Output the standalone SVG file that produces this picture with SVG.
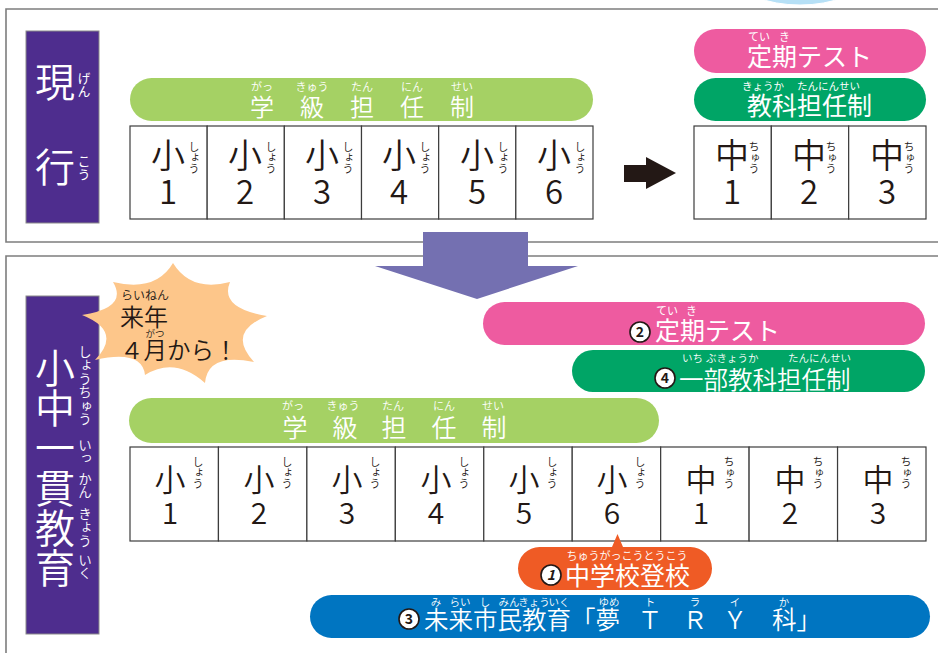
<svg xmlns="http://www.w3.org/2000/svg" width="938" height="653" viewBox="0 0 938 653">
<style>
text { font-family: "Noto Sans CJK JP", "Noto Sans", sans-serif; font-weight: 350; }
.frame { fill: none; stroke: #7d7d7d; stroke-width: 1.6; }
.cell { fill: #fff; stroke: #3c3c3c; stroke-width: 1.2; }
.lbl { fill: #4e2d8e; stroke: #8a8a8a; stroke-width: 1; }
.w { fill: #fff; }
.k { fill: #231815; }
.m { text-anchor: middle; }
.vr { writing-mode: vertical-rl; }
.r { font-size: 11px; font-weight: 400; }
.big { font-size: 40px; }
.pt { font-size: 25px; font-weight: 400; }
.ch { font-size: 34px; }
.nm { font-size: 33px; }
.ch2 { font-size: 31px; }
.nm2 { font-size: 30px; }
.circ { fill: #fff; stroke: #231815; stroke-width: 1.6; }
.cn { font-size: 14px; font-weight: bold; fill: #231815; text-anchor: middle; }
</style>

<ellipse cx="800" cy="-22" rx="62" ry="27" fill="#b6e0f6" stroke="#fff" stroke-width="1"/>

<g id="frame-current">
  <path class="frame" d="M945 9 H6 V242 H945"/>
</g>
<g id="frame-new">
  <path class="frame" d="M945 256 H6 V660"/>
</g>

<g id="label-current">
  <rect class="lbl" x="26" y="31" width="73" height="192"/>
  <text class="w m big" x="55" y="97" font-weight="400">現</text>
  <text class="w m big" x="55" y="182" font-weight="400">行</text>
  <text class="w r vr" x="84" y="72" style="font-size:13px">げん</text>
  <text class="w r vr" x="84" y="155" style="font-size:13px">こう</text>
</g>

<g id="pill-class-top">
  <rect x="130" y="78" width="463" height="43" rx="21.5" fill="#a5d164"/>
  <g class="w m" font-size="24" font-weight="400">
    <text x="262" y="116">学</text>
    <text x="312" y="116">級</text>
    <text x="362" y="116">担</text>
    <text x="412" y="116">任</text>
    <text x="462" y="116">制</text>
  </g>
  <g class="w m r">
    <text x="262" y="91">がっ</text>
    <text x="312" y="91">きゅう</text>
    <text x="362" y="91">たん</text>
    <text x="412" y="91">にん</text>
    <text x="462" y="91">せい</text>
  </g>
</g>

<g id="row-current-elementary">
  <rect class="cell" x="130" y="126" width="77.17" height="93"/>
  <rect class="cell" x="207.17" y="126" width="77.17" height="93"/>
  <rect class="cell" x="284.33" y="126" width="77.17" height="93"/>
  <rect class="cell" x="361.5" y="126" width="77.17" height="93"/>
  <rect class="cell" x="438.67" y="126" width="77.17" height="93"/>
  <rect class="cell" x="515.83" y="126" width="77.17" height="93"/>
  <g class="k m ch">
    <text x="168" y="168">小</text><text x="245" y="168">小</text><text x="322" y="168">小</text>
    <text x="399" y="168">小</text><text x="477" y="168">小</text><text x="554" y="168">小</text>
  </g>
  <g class="k m nm">
    <text x="168" y="204">1</text><text x="245" y="204">2</text><text x="322" y="204">3</text>
    <text x="399" y="204">4</text><text x="477" y="204">5</text><text x="554" y="204">6</text>
  </g>
  <g class="k r vr">
    <text x="194" y="141">しょう</text><text x="271" y="141">しょう</text><text x="348" y="141">しょう</text>
    <text x="425" y="141">しょう</text><text x="503" y="141">しょう</text><text x="580" y="141">しょう</text>
  </g>
</g>

<g id="pill-test-top">
  <rect x="694" y="29" width="232" height="44" rx="22" fill="#ee5ba0"/>
  <text class="w pt" x="747" y="66">定期テスト</text>
  <text class="w r" x="748" y="41">てい</text>
  <text class="w r" x="779" y="41">き</text>
</g>
<g id="pill-subject-top">
  <rect x="694" y="78" width="232" height="43" rx="21.5" fill="#00a566"/>
  <text class="w pt" x="747" y="115">教科担任制</text>
  <text class="w r" x="742" y="90" style="font-size:10.5px">きょうか</text>
  <text class="w r" x="797" y="90" style="font-size:10.5px">たんにんせい</text>
</g>

<g id="row-current-junior">
  <rect class="cell" x="694" y="126" width="77.33" height="93"/>
  <rect class="cell" x="771.33" y="126" width="77.33" height="93"/>
  <rect class="cell" x="848.67" y="126" width="77.33" height="93"/>
  <g class="k m ch">
    <text x="732" y="168">中</text><text x="809" y="168">中</text><text x="887" y="168">中</text>
  </g>
  <g class="k m nm">
    <text x="732" y="204">1</text><text x="809" y="204">2</text><text x="887" y="204">3</text>
  </g>
  <g class="k r vr">
    <text x="754" y="141">ちゅう</text><text x="831" y="141">ちゅう</text><text x="909" y="141">ちゅう</text>
  </g>
</g>

<g id="connectors">
  <polygon points="624,165 646,165 646,157 676,173 646,189 646,182 624,182" fill="#231815"/>
  <polygon points="423,232 528,232 528,266 578,266 477,299 375,266 423,266" fill="#7470b1"/>
</g>

<g id="label-new">
  <rect class="lbl" x="26" y="296" width="73" height="338"/>
  <text class="w big vr" x="55" y="348" font-weight="400">小中一貫教育</text>
  <g class="w vr" font-size="13.5" font-weight="400">
    <text x="85" y="345">しょうちゅう</text>
    <text x="85" y="438">いっ</text>
    <text x="85" y="472">かん</text>
    <text x="85" y="507">きょう</text>
    <text x="85" y="553">いく</text>
  </g>
</g>

<g id="burst">
  <path d="M173,263 Q190.9,292.3 230,282 Q219.1,308.2 267,316 Q226.3,332.2 254,362 Q207.7,352.3 205,383 Q175,356.2 145,375 Q142,349.3 95,360 Q123.1,331.3 82,315 Q128.5,307.9 113,282 Q155.8,292.3 173,263 Z" fill="#fdc68a"/>
  <text class="k" x="121" y="300" font-size="12" font-weight="400">らいねん</text>
  <text class="k" x="120" y="326" font-size="24" font-weight="400">来年</text>
  <text class="k m" x="155" y="337" font-size="9.5" font-weight="400">がつ</text>
  <text class="k" x="120" y="359" font-size="23.5" font-weight="400">４月から！</text>
</g>

<g id="pill-test-new">
  <rect x="483" y="302" width="442" height="43" rx="21.5" fill="#ee5ba0"/>
  <circle class="circ" cx="640" cy="332" r="10"/>
  <text class="cn" x="640" y="337">2</text>
  <text class="w pt" x="655" y="340">定期テスト</text>
  <text class="w r" x="656" y="315">てい</text>
  <text class="w r" x="686" y="315">き</text>
</g>

<g id="pill-subject-new">
  <rect x="572" y="350" width="353" height="42" rx="21" fill="#00a566"/>
  <circle class="circ" cx="665" cy="378" r="10"/>
  <text class="cn" x="665" y="383">4</text>
  <text class="w" x="679" y="389" font-size="24.5" font-weight="400">一部教科担任制</text>
  <g class="w" font-size="10.5" font-weight="400">
    <text x="682" y="362">いち</text>
    <text x="706" y="362">ぶきょうか</text>
    <text x="788" y="362">たんにんせい</text>
  </g>
</g>

<g id="pill-class-new">
  <rect x="129" y="398" width="530" height="45" rx="22.5" fill="#a5d164"/>
  <g class="w m" font-size="25" font-weight="400">
    <text x="295" y="437">学</text>
    <text x="345" y="437">級</text>
    <text x="394" y="437">担</text>
    <text x="444" y="437">任</text>
    <text x="494" y="437">制</text>
  </g>
  <g class="w m r">
    <text x="293" y="410">がっ</text>
    <text x="343" y="410">きゅう</text>
    <text x="393" y="410">たん</text>
    <text x="444" y="410">にん</text>
    <text x="493" y="410">せい</text>
  </g>
</g>

<g id="row-new">
  <rect class="cell" x="130" y="447" width="88.44" height="94"/>
  <rect class="cell" x="218.44" y="447" width="88.44" height="94"/>
  <rect class="cell" x="306.89" y="447" width="88.44" height="94"/>
  <rect class="cell" x="395.33" y="447" width="88.44" height="94"/>
  <rect class="cell" x="483.78" y="447" width="88.44" height="94"/>
  <rect class="cell" x="572.22" y="447" width="88.44" height="94"/>
  <rect class="cell" x="660.67" y="447" width="88.44" height="94"/>
  <rect class="cell" x="749.11" y="447" width="88.44" height="94"/>
  <rect class="cell" x="837.56" y="447" width="88.44" height="94"/>
  <g class="k m ch2">
    <text x="170" y="491">小</text><text x="259" y="491">小</text><text x="347" y="491">小</text>
    <text x="436" y="491">小</text><text x="524" y="491">小</text><text x="612" y="491">小</text>
    <text x="701" y="491">中</text><text x="790" y="491">中</text><text x="878" y="491">中</text>
  </g>
  <g class="k m nm2">
    <text x="170" y="524">1</text><text x="259" y="524">2</text><text x="347" y="524">3</text>
    <text x="436" y="524">4</text><text x="524" y="524">5</text><text x="612" y="524">6</text>
    <text x="701" y="524">1</text><text x="790" y="524">2</text><text x="878" y="524">3</text>
  </g>
  <g class="k r vr">
    <text x="198" y="456">しょう</text><text x="287" y="456">しょう</text><text x="375" y="456">しょう</text>
    <text x="464" y="456">しょう</text><text x="552" y="456">しょう</text><text x="640" y="456">しょう</text>
    <text x="729" y="456">ちゅう</text><text x="818" y="456">ちゅう</text><text x="906" y="456">ちゅう</text>
  </g>
</g>

<g id="callout-junior-school">
  <path d="M539.5,547 H612 L617.5,534 L623,547 H690.5 A21.5,21.5 0 0 1 690.5,590 H539.5 A21.5,21.5 0 0 1 539.5,547 Z" fill="#ef5b25"/>
  <circle class="circ" cx="551" cy="575" r="10"/>
  <text class="cn" x="551" y="580" font-style="italic">1</text>
  <text class="w pt" x="565" y="585">中学校登校</text>
  <text class="w m" x="627" y="560" font-size="11" font-weight="400">ちゅうがっこうとうこう</text>
</g>

<g id="pill-dream">
  <rect x="310" y="595" width="620" height="43" rx="21.5" fill="#0075c1"/>
  <circle class="circ" cx="409" cy="619" r="10"/>
  <text class="cn" x="409" y="624">3</text>
  <g class="w" font-size="24.5" font-weight="400">
    <text x="424" y="629">未来市民教育「夢</text>
    <text class="m" x="650" y="629">Ｔ</text>
    <text class="m" x="695" y="629">Ｒ</text>
    <text class="m" x="735" y="629">Ｙ</text>
    <text x="772" y="629">科」</text>
  </g>
  <g class="w m" font-size="10.5" font-weight="400">
    <text x="436" y="606">み</text>
    <text x="460" y="606">らい</text>
    <text x="485" y="606">し</text>
    <text x="509" y="606">みん</text>
    <text x="534" y="606">きょう</text>
    <text x="559" y="606">いく</text>
    <text x="609" y="606">ゆめ</text>
    <text x="650" y="606">ト</text>
    <text x="695" y="606">ラ</text>
    <text x="735" y="606">イ</text>
    <text x="784" y="606">か</text>
  </g>
</g>
</svg>
